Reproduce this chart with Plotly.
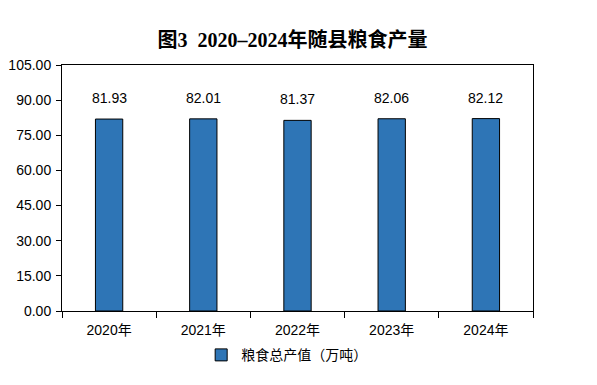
import plotly.graph_objects as go

categories = ["2020年", "2021年", "2022年", "2023年", "2024年"]
values = [81.93, 82.01, 81.37, 82.06, 82.12]
series_name = "粮食总产值（万吨）"
title_text = "图3  2020–2024年随县粮食产量"

font_fam = "Liberation Sans, Noto Sans CJK SC, sans-serif"

fig = go.Figure()
fig.add_trace(go.Bar(
    x=categories, y=values, name=series_name,
    marker=dict(color="#2E75B6", line=dict(color="#000000", width=1)),
    width=0.29,
    showlegend=True,
))

for c, v in zip(categories, values):
    fig.add_annotation(x=c, y=v, text=f"{v:.2f}", showarrow=False,
                       yanchor="bottom", yshift=11,
                       font=dict(family=font_fam, size=14, color="#000"))

fig.update_layout(
    width=597, height=385,
    margin=dict(l=62, r=64, t=65, b=74, autoexpand=False),
    paper_bgcolor="white", plot_bgcolor="white",
    title=dict(text=f"<b>{title_text}</b>", x=0.49, xanchor="center", y=0.895, yanchor="middle",
               font=dict(family="Liberation Serif, Noto Sans CJK SC, serif", size=20, color="#000")),
    font=dict(family=font_fam, size=14, color="#000"),
    legend=dict(orientation="h", x=0.477, xanchor="center", y=-0.18, yanchor="middle",
                font=dict(family=font_fam, size=14), itemwidth=30),
    xaxis=dict(type="category", showline=True, linecolor="#000", linewidth=1, mirror=True,
               ticks="outside", tickson="boundaries", ticklen=6, tickcolor="#000",
               showgrid=False, tickfont=dict(size=14), automargin=False, ticklabelstandoff=6),
    yaxis=dict(range=[0, 105], dtick=15, tick0=0, tickformat=".2f", showline=True,
               linecolor="#000", linewidth=1, mirror=True, ticks="outside", ticklen=5,
               tickcolor="#000", showgrid=False, zeroline=False, tickfont=dict(size=14),
               automargin=False, ticklabelstandoff=2),
    bargap=0.7,
)
fig.write_html("out.html", config={"displayModeBar": False},
               post_script="document.body.style.margin='0';")
